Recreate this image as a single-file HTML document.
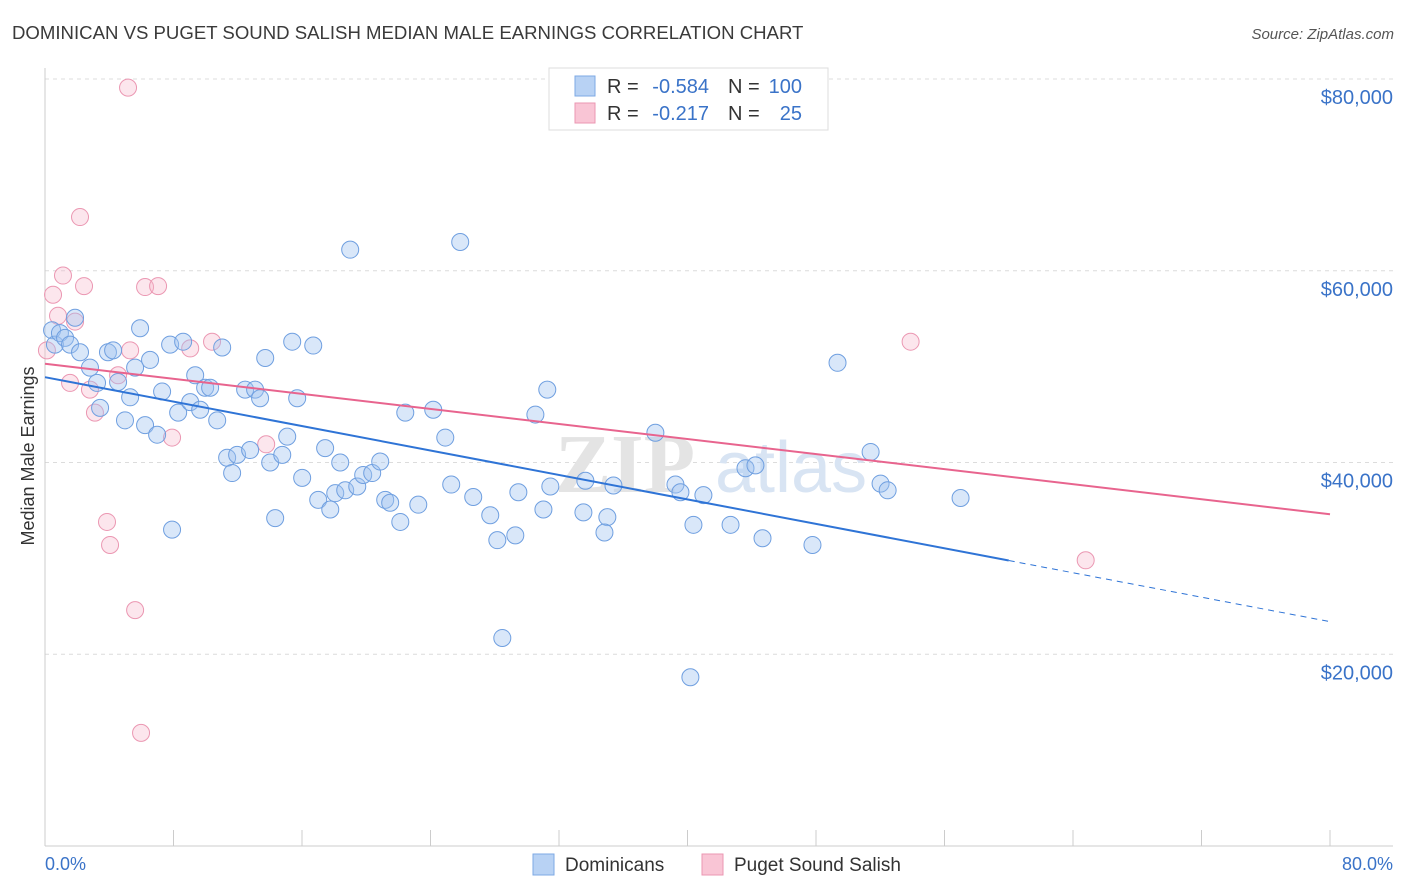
<!DOCTYPE html>
<html><head><meta charset="utf-8">
<style>
body{margin:0;background:#fff;font-family:"Liberation Sans",sans-serif;}
svg{display:block}
</style></head>
<body>
<svg id="chart" width="1406" height="892" xmlns="http://www.w3.org/2000/svg">
<text x="12" y="39" font-size="18.6" fill="#3a3a3a">DOMINICAN VS PUGET SOUND SALISH MEDIAN MALE EARNINGS CORRELATION CHART</text>
<text x="1394" y="39" font-size="15" fill="#555" font-style="italic" text-anchor="end">Source: ZipAtlas.com</text>
<g id="grid"></g>
<text x="555" y="492" font-size="84" fill="#e4e4e4" font-family="Liberation Serif,serif" font-weight="bold">ZIP</text>
<text x="715" y="492" font-size="72" fill="#d8e4f3">atlas</text>
<line x1="45" y1="68" x2="45" y2="846" stroke="#ccc"/>
<line x1="45" y1="846" x2="1393" y2="846" stroke="#ccc"/>
<text x="45" y="870" font-size="18" fill="#3a73c8">0.0%</text>
<text x="1393" y="870" font-size="18" fill="#3a73c8" text-anchor="end">80.0%</text>
<text transform="translate(34,456) rotate(-90)" font-size="18" fill="#333" text-anchor="middle">Median Male Earnings</text>
<g id="marks"></g>
<g>
<rect x="549" y="68" width="279" height="62" fill="#fff" stroke="#ddd"/>
<rect x="575" y="76" width="20" height="20" fill="#b8d2f4" stroke="#7ea9e4"/>
<rect x="575" y="103" width="20" height="20" fill="#f9c5d5" stroke="#eb97b2"/>
<text x="607" y="93" font-size="20" fill="#333">R =</text>
<text x="709" y="93" font-size="20" fill="#3a73c8" text-anchor="end">-0.584</text>
<text x="728" y="93" font-size="20" fill="#333">N =</text>
<text x="802" y="93" font-size="20" fill="#3a73c8" text-anchor="end">100</text>
<text x="607" y="120" font-size="20" fill="#333">R =</text>
<text x="709" y="120" font-size="20" fill="#3a73c8" text-anchor="end">-0.217</text>
<text x="728" y="120" font-size="20" fill="#333">N =</text>
<text x="802" y="120" font-size="20" fill="#3a73c8" text-anchor="end">25</text>
</g>
<g>
<rect x="533" y="854" width="21" height="21" fill="#b8d2f4" stroke="#7ea9e4"/>
<text x="565" y="871" font-size="19" fill="#333">Dominicans</text>
<rect x="702" y="854" width="21" height="21" fill="#f9c5d5" stroke="#eb97b2"/>
<text x="734" y="871" font-size="19" fill="#333">Puget Sound Salish</text>
</g>
</svg>
<script>
const yTicks=[20000,40000,60000,80000];
const yTickLabels=["$20,000","$40,000","$60,000","$80,000"];
const xTicks=[8,16,24,32,40,48,56,64,72,80];
const blueX=[0.44,0.62,0.93,1.25,1.56,1.87,2.18,2.80,3.24,3.43,3.92,4.24,4.55,4.98,5.30,5.61,5.92,6.23,6.54,6.98,7.29,7.79,7.91,8.29,8.60,9.04,9.35,9.66,9.97,10.28,10.72,11.03,11.34,11.65,11.96,12.46,12.77,13.08,13.39,13.71,14.02,14.33,14.77,15.08,15.39,15.70,16.01,16.70,17.01,17.44,17.76,18.07,18.38,18.69,19.00,19.44,19.81,20.37,20.87,21.18,21.49,22.12,22.43,23.24,24.17,24.92,25.29,25.85,26.66,27.72,28.16,28.47,29.28,29.47,30.53,31.03,31.27,31.46,33.52,33.64,35.01,34.83,35.39,38.00,39.25,39.56,40.37,40.99,42.68,43.61,44.23,44.67,47.78,49.34,51.40,52.02,52.46,57.00,40.18];
const blueY=[53.8,52.3,53.5,53.0,52.3,55.1,51.5,49.9,48.3,45.7,51.5,51.7,48.4,44.4,46.8,49.9,54.0,43.9,50.7,42.9,47.4,52.3,33.0,45.2,52.6,46.3,49.1,45.5,47.8,47.8,44.4,52.0,40.5,38.9,40.8,47.6,41.3,47.6,46.7,50.9,40.0,34.2,40.8,42.7,52.6,46.7,38.4,52.2,36.1,41.5,35.1,36.8,40.0,37.1,62.2,37.5,38.7,38.9,40.1,36.1,35.8,33.8,45.2,35.6,45.5,42.6,37.7,63.0,36.4,34.5,31.9,21.7,32.4,36.9,45.0,35.1,47.6,37.5,34.8,38.1,34.3,32.7,37.6,43.1,37.7,36.9,33.5,36.6,33.5,39.4,39.7,32.1,31.4,50.4,41.1,37.8,37.1,36.3,17.6];
const pinkX=[0.12,0.50,0.81,1.12,1.56,1.87,2.18,2.43,2.80,3.11,3.86,4.05,4.55,5.17,5.30,5.61,5.98,6.23,7.04,7.91,9.04,10.40,13.77,53.89,64.79];
const pinkY=[51.7,57.5,55.3,59.5,48.3,54.7,65.6,58.4,47.6,45.2,33.8,31.4,49.1,79.1,51.7,24.6,11.8,58.3,58.4,42.6,51.9,52.6,41.9,52.6,29.8];
const blueTrend=[48.9,23.4];
const blueSolidEnd=60;
const pinkTrend=[50.3,34.6];

const NS="http://www.w3.org/2000/svg";
const sx=v=>45+v*(1330-45)/80;
const sy=v=>846-v*(846-79)/80000;
const grid=document.getElementById('grid'),marks=document.getElementById('marks');
function mk(tag,attrs,parent){const e=document.createElementNS(NS,tag);for(const k in attrs)e.setAttribute(k,attrs[k]);parent.appendChild(e);return e;}
yTicks.forEach((t,i)=>{
  const l=mk('line',{x1:45,x2:1393,y1:sy(t),y2:sy(t),stroke:'#dcdcdc','stroke-dasharray':'4,4'},grid);
  
  
  const tx=mk('text',{x:1393,y:sy(t)+25,'font-size':20,fill:'#3a73c8','text-anchor':'end'},grid);
  tx.textContent=yTickLabels[i];
  
  
});
xTicks.forEach(t=>{
  const l=mk('line',{x1:sx(t),x2:sx(t),y1:830,y2:846,stroke:'#ccc'},grid);
  
  
});
pinkX.forEach((x,i)=>{
  const c=mk('circle',{cx:sx(x),cy:sy(pinkY[i]*1000),r:8.5,fill:'rgba(246,182,202,0.35)',stroke:'#eb97b2','stroke-width':1},marks);
  
  
});
blueX.forEach((x,i)=>{
  const c=mk('circle',{cx:sx(x),cy:sy(blueY[i]*1000),r:8.5,fill:'rgba(160,195,240,0.4)',stroke:'#6f9fe0','stroke-width':1},marks);
  
  
});
const bAt=x=>blueTrend[0]+(blueTrend[1]-blueTrend[0])*x/80;
const l1=mk('line',{x1:sx(0),y1:sy(bAt(0)*1000),x2:sx(blueSolidEnd),y2:sy(bAt(blueSolidEnd)*1000),stroke:'#2f74d6','stroke-width':2},marks);


const l2=mk('line',{x1:sx(blueSolidEnd),y1:sy(bAt(blueSolidEnd)*1000),x2:sx(80),y2:sy(bAt(80)*1000),stroke:'#2f74d6','stroke-width':1,'stroke-dasharray':'6,5'},marks);


const l3=mk('line',{x1:sx(0),y1:sy(pinkTrend[0]*1000),x2:sx(80),y2:sy(pinkTrend[1]*1000),stroke:'#e8648e','stroke-width':2},marks);


</script>
</body></html>
